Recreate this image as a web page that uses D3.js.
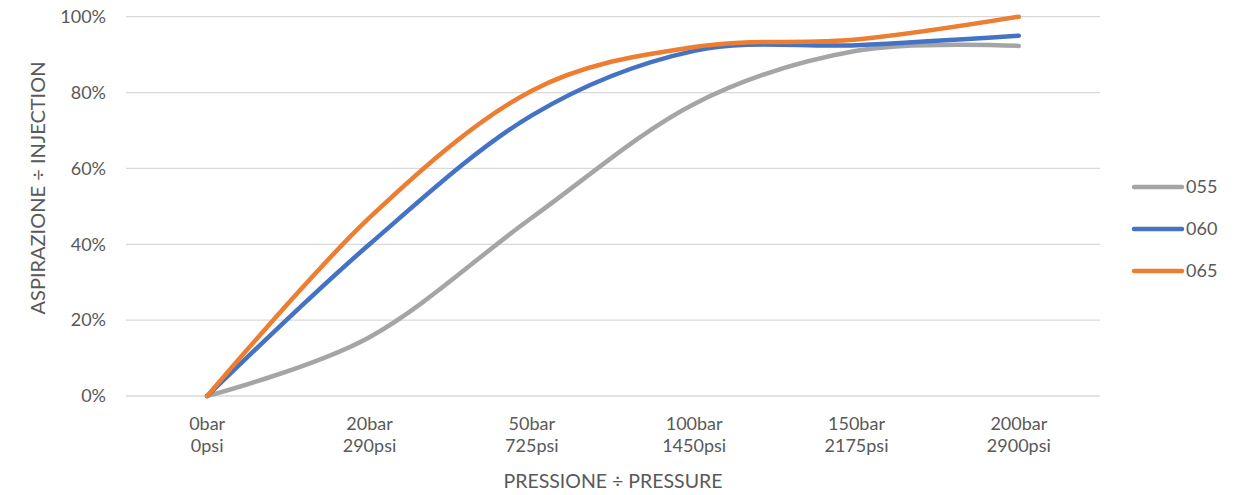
<!DOCTYPE html>
<html><head><meta charset="utf-8">
<script src="https://cdnjs.cloudflare.com/ajax/libs/d3/7.8.5/d3.min.js"></script>
<style>body{margin:0;background:#fff}svg{display:block}text{font-family:Lato,"Open Sans",sans-serif;fill:#595959}</style>
</head><body>
<svg id="c" width="1253" height="495"></svg>
<script>
const categories = [["0bar","0psi"],["20bar","290psi"],["50bar","725psi"],["100bar","1450psi"],["150bar","2175psi"],["200bar","2900psi"]];
const s055 = [0, 0.155, 0.47, 0.77, 0.91, 0.923];
const s060 = [0, 0.40, 0.74, 0.91, 0.925, 0.95];
const s065 = [0, 0.47, 0.805, 0.92, 0.94, 1.0];
const seriesNames = ["055","060","065"];
const yTicks = [0,0.2,0.4,0.6,0.8,1.0];
const colors = ["#A5A5A5","#4472C4","#ED7D31"];
const series = [s055, s060, s065];

const svg = d3.select("#c");
const L=126, R=1100, T=16.7, B=396;
const x = d3.scaleBand().domain(d3.range(categories.length)).range([L,R]);
const y = d3.scaleLinear().domain([0,1]).range([B,T]);

svg.append("g").selectAll("line").data(yTicks).join("line")
  .attr("x1",L).attr("x2",R).attr("y1",d=>y(d)).attr("y2",d=>y(d))
  .attr("stroke","#d9d9d9").attr("stroke-width",1.3);

const yAxis = svg.append("g").attr("transform",`translate(${L},0)`)
  .call(d3.axisLeft(y).tickValues(yTicks).tickFormat(d3.format(".0%")).tickSize(0).tickPadding(20));
yAxis.select(".domain").remove();
yAxis.selectAll("text").style("font-size","18px").attr("fill","#595959");

const xAxis = svg.append("g").attr("transform",`translate(0,${B})`)
  .call(d3.axisBottom(x).tickSize(0).tickFormat(""));
xAxis.select(".domain").remove();
xAxis.selectAll(".tick").each(function(d){
  const t = d3.select(this).append("text").attr("text-anchor","middle").style("font-size","18px").attr("fill","#595959");
  t.append("tspan").attr("x",0).attr("y",34).text(categories[d][0]);
  t.append("tspan").attr("x",0).attr("y",56).text(categories[d][1]);
});

const line = d3.line().x((d,i)=>x(i)+x.bandwidth()/2).y(d=>y(d)).curve(d3.curveCardinal.tension(0));
svg.append("g").selectAll("path").data(series).join("path")
  .attr("d",line).attr("fill","none").attr("stroke",(d,i)=>colors[i])
  .attr("stroke-width",4.5).attr("stroke-linecap","round").attr("stroke-linejoin","round");

svg.append("text").attr("x",(L+R)/2).attr("y",488).attr("text-anchor","middle")
  .style("font-size","19.5px").text("PRESSIONE ÷ PRESSURE");
svg.append("text").attr("transform",`translate(45,188) rotate(-90)`).attr("text-anchor","middle")
  .style("font-size","20px").text("ASPIRAZIONE ÷ INJECTION");

const leg = svg.append("g").selectAll("g").data(seriesNames).join("g")
  .attr("transform",(d,i)=>`translate(1134,${187+i*42})`);
leg.append("line").attr("x1",0).attr("x2",48).attr("stroke",(d,i)=>colors[i]).attr("stroke-width",4.5).attr("stroke-linecap","round");
leg.append("text").attr("x",52).attr("dy","0.35em").style("font-size","18px").text(d=>d);
</script>
</body></html>
